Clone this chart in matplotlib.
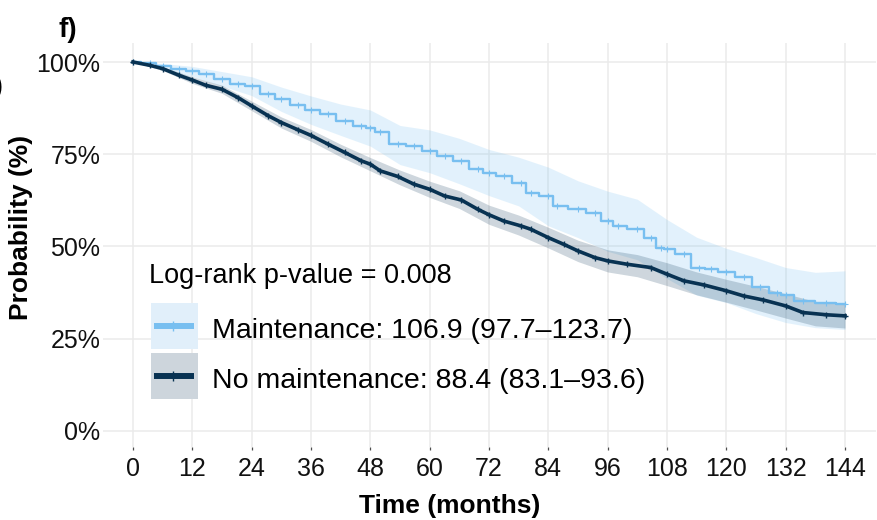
import matplotlib
matplotlib.use("Agg")
import matplotlib.pyplot as plt
from matplotlib.patches import Rectangle
from matplotlib.lines import Line2D

plt.rcParams['font.family'] = ['Liberation Sans', 'DejaVu Sans']

# ---- data ----
m_time = [0, 3.4, 6, 9.3, 12, 14.7, 18, 21.3, 24, 27.4, 30, 33.4, 36, 39.5, 42.8, 46.2, 48, 50,
          53.5, 56.8, 60, 63, 66.4, 69.7, 72, 75, 78.4, 80.4, 84, 85.8, 90, 93.4, 96, 98, 102,
          104.7, 106.7, 108, 111.4, 114.4, 116.8, 120, 123.5, 126.9, 130.2, 132, 135.5, 140.2, 144]
m_surv = [100, 99.8, 98.9, 98.2, 97.6, 96.7, 95.5, 94.0, 93.5, 91.2, 89.9, 88.3, 87.0, 85.8, 84.0,
          82.7, 82.2, 80.9, 77.7, 77.3, 75.9, 74.5, 73.2, 70.9, 70.0, 69.1, 67.3, 64.6, 63.7, 61.0,
          60.1, 59.2, 56.9, 55.6, 54.7, 52.4, 49.7, 49.3, 47.9, 44.3, 43.9, 43.0, 41.6, 38.9, 37.5,
          36.9, 35.1, 34.8, 34.4]

nm_time = [0, 3.4, 6, 9.3, 12, 14.7, 18, 21.3, 24, 27.4, 30, 33.4, 36, 39.5, 42.8, 46.2, 48, 50,
           53.5, 56.8, 60, 63, 66.4, 69.7, 72, 75, 78.4, 80.4, 84, 87.1, 90, 93.4, 96, 99.9, 104.7,
           108, 111.4, 115.4, 120, 123.5, 127.5, 132, 135.5, 140.2, 144]
nm_surv = [100, 99.1, 98.2, 96.4, 95.1, 93.7, 92.6, 90.3, 88.1, 85.4, 83.6, 81.6, 80.1, 77.7, 75.5,
           73.2, 72.3, 70.5, 69.0, 66.9, 65.5, 63.7, 62.6, 60.1, 58.6, 56.9, 55.6, 54.7, 52.4, 50.6,
           48.8, 47.0, 46.1, 45.2, 44.3, 42.5, 40.7, 39.6, 38.0, 36.6, 35.5, 33.9, 32.1, 31.5, 31.2]

band_time = [0, 6, 12, 18, 24, 30, 36, 42, 48, 54, 60, 66, 72, 78, 84, 90, 96, 102, 108, 114, 120,
             126, 132, 138, 144]
m_upper = [100, 99.6, 98.8, 97.4, 96.0, 93.2, 90.8, 88.6, 87.0, 82.8, 81.6, 79.3, 76.3, 74.2, 71.5,
           67.8, 65.0, 62.8, 57.3, 52.5, 49.5, 47.0, 44.3, 43.0, 43.4]
m_lower = [100, 98.1, 96.1, 93.5, 90.9, 86.6, 83.1, 80.1, 77.2, 72.2, 70.0, 67.0, 63.8, 61.0, 55.6,
           52.4, 48.7, 46.4, 41.3, 36.8, 34.8, 31.8, 29.4, 28.0, 27.5]
nm_upper = [100, 98.7, 96.0, 93.7, 89.4, 85.1, 81.7, 77.7, 74.1, 70.7, 67.7, 65.1, 61.2, 58.5, 55.2,
            51.7, 49.1, 47.8, 45.6, 43.1, 41.1, 39.2, 37.2, 35.1, 34.5]
nm_lower = [100, 97.7, 94.2, 91.5, 86.8, 82.1, 78.5, 74.3, 70.5, 66.7, 63.3, 60.3, 56.0, 53.1, 49.6,
            45.9, 43.1, 41.8, 39.4, 36.9, 34.9, 32.8, 30.6, 28.5, 27.9]

x_ticks = [0, 12, 24, 36, 48, 60, 72, 84, 96, 108, 120, 132, 144]
y_ticks = [0, 25, 50, 75, 100]
y_ticklabels = ["0%", "25%", "50%", "75%", "100%"]

legend_title = "Log-rank p-value = 0.008"
labels = ["Maintenance: 106.9 (97.7\u2013123.7)", "No maintenance: 88.4 (83.1\u201393.6)"]

light = "#78BFF0"
dark = "#083252"

W, H = 878, 520
fig = plt.figure(figsize=(W / 100, H / 100), dpi=100)
fx = lambda px: px / W
fy = lambda py: 1 - py / H

ax = fig.add_axes([fx(103), fy(447), (876 - 103) / W, (447 - 43) / H])
ax.set_xlim(-6.07, 150.27)
ax.set_ylim(-4.34, 105.15)

ax.fill_between(band_time, m_lower, m_upper, color="#7DC3F2", alpha=0.22, lw=0, zorder=1)
ax.fill_between(band_time, nm_lower, nm_upper, color="#0A3555", alpha=0.2, lw=0, zorder=2)
ax.plot(m_time, m_surv, color=light, lw=1.7, drawstyle="steps-mid", zorder=3,
        marker="+", ms=4, mew=0.8)
ax.plot(nm_time, nm_surv, color=dark, lw=2.6, zorder=4, marker="+", ms=5, mew=1.0)

ax.set_xticks(x_ticks)
ax.set_yticks(y_ticks)
ax.set_yticklabels(y_ticklabels)
ax.grid(True, color="#EBEBEB", lw=1.1, zorder=0)
ax.set_axisbelow(True)
for s in ax.spines.values():
    s.set_visible(False)
ax.tick_params(axis="x", length=2.5, width=0.9, color="#4d4d4d", pad=5, labelsize=18,
               labelcolor="#111111")
ax.tick_params(axis="y", length=0, pad=2, labelsize=18, labelcolor="#111111")

# axis titles and panel tag
fig.text(fx(449.5), fy(505.5), "Time (months)", ha="center", va="center", fontsize=19,
         fontweight="bold")
fig.text(fx(21), fy(227.5), "Probability (%)", ha="center", va="center", fontsize=19,
         fontweight="bold", rotation=90)
fig.text(fx(59), fy(37), "f)", ha="left", va="baseline", fontsize=20, fontweight="bold")
fig.text(fx(3), fy(87), ")", ha="right", va="center", fontsize=19, fontweight="bold")

# legend
fig.text(fx(149), fy(282.7), legend_title, ha="left", va="baseline", fontsize=19.5)
box_colors = ["#E1EFFA", "#CDD5DC"]
line_colors = [light, dark]
box_tops = [302.7, 353.0]
baselines = [338.3, 388.3]
for bc, lc, top, bl, lab in zip(box_colors, line_colors, box_tops, baselines, labels):
    fig.add_artist(Rectangle((fx(150.7), fy(top + 46)), 47 / W, 46 / H,
                             transform=fig.transFigure, facecolor=bc, edgecolor="none"))
    yc = top + 23
    fig.add_artist(Line2D([fx(154), fx(194)], [fy(yc), fy(yc)], transform=fig.transFigure,
                          color=lc, lw=4.3, solid_capstyle="butt"))
    fig.add_artist(Line2D([fx(173.3)], [fy(yc)], transform=fig.transFigure, color=lc,
                          marker="|", ms=7, mew=1.0, lw=0))
    fig.text(fx(212), fy(bl), lab, ha="left", va="baseline", fontsize=20.5)

fig.savefig("out.png", dpi=100)
